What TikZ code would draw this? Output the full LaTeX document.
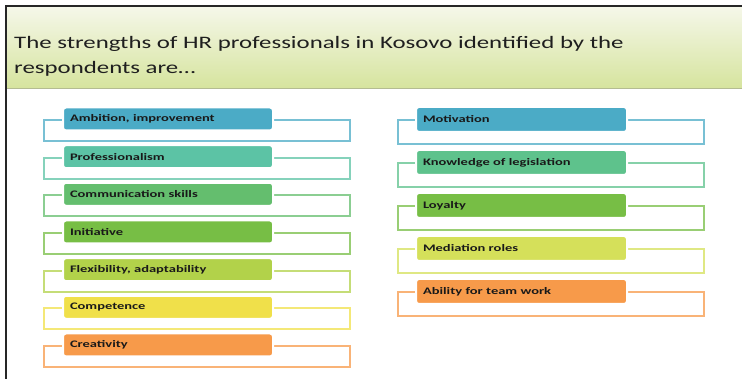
\documentclass[tikz,border=0pt]{standalone}
\usepackage{fontspec}
\setmainfont{Carlito}
\newfontfamily\headfont{Carlito}[FakeStretch=1.42]
\newfontfamily\itemfont{Carlito}[FakeStretch=1.45]
\usetikzlibrary{positioning}
\definecolor{hdtop}{HTML}{F5F7E9}
\definecolor{hdbot}{HTML}{D6E49E}
\definecolor{hdline}{HTML}{B4BC92}
\definecolor{cblue}{HTML}{4BABC6}
\definecolor{cteal}{HTML}{5CC3A5}
\definecolor{cgreen}{HTML}{64BE6E}
\definecolor{cleaf}{HTML}{77BE45}
\definecolor{clime}{HTML}{B2D24A}
\definecolor{cyellow}{HTML}{F0E04A}
\definecolor{corange}{HTML}{F79A4A}
\definecolor{cmint}{HTML}{5EC28C}
\definecolor{cpear}{HTML}{D5E05A}

\tikzset{
	frame/.style={draw=#1!75!white, line width=2pt, anchor=north west, minimum width=306pt, inner sep=0pt},
	tag/.style={fill=#1, draw=white, line width=2pt, rounded corners=3pt, anchor=west, inner xsep=7pt, inner ysep=0pt, align=left, text=black!90, font=\itemfont\bfseries\fontsize{10}{11}\selectfont}
}

\begin{document}
\begin{tikzpicture}[x=1pt, y=-1pt]
		\useasboundingbox (0,0) rectangle (742,379);
		% header band
		\shade[top color=hdtop, bottom color=hdbot] (7,7) rectangle (742,88);
		\draw[hdline, line width=1.5pt] (7,88.5) -- (742,88.5);
		\draw[black!85, line width=1.5pt] (6,379) -- (6,6) -- (742,6);
		\node[anchor=base west, align=left, inner sep=0pt, text=black!88, font=\headfont\fontsize{17.5}{25}\selectfont] (title) at (14,74)
			{The strengths of HR professionals in Kosovo identified by the\\respondents are\ldots};
		% left column
		\begin{scope}[every node/.append style={minimum height=21pt}]
			\node[frame=cblue] (f1) at (43,119) {};
			\node[frame=cteal] (f2) at (43,156.7) {};
			\node[frame=cgreen] (f3) at (43,194.3) {};
			\node[frame=cleaf] (f4) at (43,232) {};
			\node[frame=clime] (f5) at (43,269.7) {};
			\node[frame=cyellow] (f6) at (43,307.3) {};
			\node[frame=corange] (f7) at (43,345) {};
		\end{scope}
		\begin{scope}[every node/.append style={minimum height=23pt, text width=196pt}]
			\node[tag=cblue] (a1) at (62,119) {Ambition, improvement};
			\node[tag=cteal] (a2) at (62,156.7) {Professionalism};
			\node[tag=cgreen] (a3) at (62,194.3) {Communication skills};
			\node[tag=cleaf] (a4) at (62,232) {Initiative};
			\node[tag=clime] (a5) at (62,269.7) {Flexibility, adaptability};
			\node[tag=cyellow] (a6) at (62,307.3) {Competence};
			\node[tag=corange] (a7) at (62,345) {Creativity};
		\end{scope}
		% right column
		\begin{scope}[every node/.append style={minimum height=24pt}]
			\node[frame=cblue] (g1) at (397,119.5) {};
			\node[frame=cmint] (g2) at (397,162.5) {};
			\node[frame=cleaf] (g3) at (397,205.5) {};
			\node[frame=cpear] (g4) at (397,248.5) {};
			\node[frame=corange] (g5) at (397,291.5) {};
		\end{scope}
		\begin{scope}[every node/.append style={minimum height=25pt, text width=197pt}]
			\node[tag=cblue] (b1) at (415,119.5) {Motivation};
			\node[tag=cmint] (b2) at (415,162.5) {Knowledge of legislation};
			\node[tag=cleaf] (b3) at (415,205.5) {Loyalty};
			\node[tag=cpear] (b4) at (415,248.5) {Mediation roles};
			\node[tag=corange] (b5) at (415,291.5) {Ability for team work};
		\end{scope}
	\end{tikzpicture}
\end{document}
